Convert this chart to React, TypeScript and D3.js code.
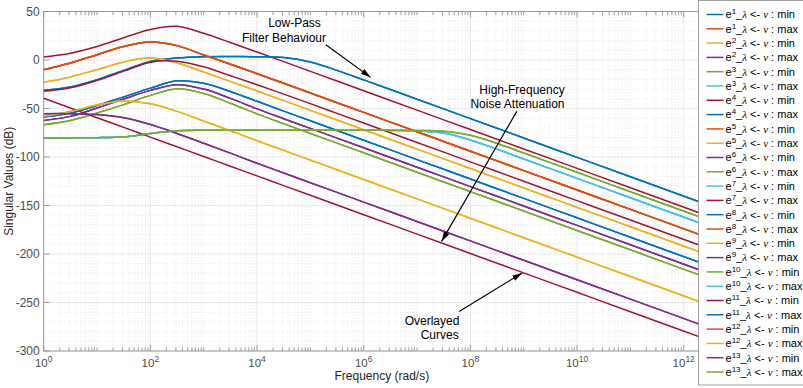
import React from "react";
import * as d3 from "d3";

// Frequency grid (log10 of rad/s) shared by every response curve
const FREQ_EXP = [0, 0.5, 1, 1.5, 2, 2.5, 3, 3.5, 4, 4.5, 5, 5.5, 6, 6.5, 7, 7.5, 8, 8.5, 9, 10, 11, 12.7];

// Singular value responses in dB, one value per grid frequency
const lowPassFlat = [-31.3, -27.8, -20.3, -10.7, -1.5, 2, 3.3, 3.5, 3.4, 2.5, -2, -10.7, -20.5, -30.4, -40.4, -50.4, -60.4, -70.4, -80.4, -100.4, -120.4, -154.4];
const highPeak = [3, 7, 14, 23, 31.5, 34.8, 27.5, 18, 8.2, -1.7, -11.7, -21.7, -31.7, -41.7, -51.7, -61.7, -71.7, -81.7, -91.7, -111.7, -131.7, -165.7];
const midPeak = [-10, -3, 5.5, 14, 18.5, 14.8, 5.2, -4.3, -14.1, -24, -34, -44, -54, -64, -74, -84, -94, -104, -114, -134, -154, -188];
const lowPeak = [-23, -17.5, -10, -2, 2, -3, -12.4, -22, -31.9, -41.9, -51.9, -61.9, -71.9, -81.9, -91.9, -101.9, -111.9, -121.9, -131.9, -151.9, -171.9, -205.9];
const zeroPeak = [-32.3, -28.6, -21, -11.5, -2.3, -1.3, -7, -16.2, -25.5, -35.2, -45, -55, -65, -75, -85, -95, -105, -115, -125, -145, -165, -199];
const humpA = [-58.8, -54.6, -47, -38, -29, -21.5, -24, -32.5, -42.6, -52.7, -62.7, -72.7, -82.7, -92.7, -102.7, -112.7, -122.7, -132.7, -142.7, -162.7, -182.7, -216.7];
const humpB = [-62.3, -58.1, -49.5, -40.2, -31.3, -25.5, -30, -39.6, -50.4, -60.5, -70.5, -80.5, -90.5, -100.5, -110.5, -120.5, -130.5, -140.5, -150.5, -170.5, -190.5, -224.5];
const humpC = [-66.7, -62.3, -54.6, -46, -36.5, -29.6, -34.5, -44.6, -55.5, -65.7, -75.7, -85.7, -95.7, -105.7, -115.7, -125.7, -135.7, -145.7, -155.7, -175.7, -195.7, -229.7];
const earlyPeak = [-58, -53, -46.5, -42.2, -45.2, -53, -63, -73, -83.2, -93.2, -103.2, -113.2, -123.2, -133.2, -143.2, -153.2, -163.2, -173.2, -183.2, -203.2, -223.2, -257.2];
const earlyRoll = [-55.4, -55.3, -56.3, -59.5, -66.5, -75.8, -85.8, -96, -106.5, -116.5, -126.5, -136.5, -146.5, -156.5, -166.5, -176.5, -186.5, -196.5, -206.5, -226.5, -246.5, -280.5];
const pureRoll = [-39.5, -49.5, -59.5, -69.5, -79.5, -89.5, -99.5, -109.5, -119.5, -129.5, -139.5, -149.5, -159.5, -169.5, -179.5, -189.5, -199.5, -209.5, -219.5, -239.5, -259.5, -293.5];
const widePlateau = [-80.4, -80.3, -80.1, -79.2, -75.8, -73, -72.5, -72.4, -72.4, -72.4, -72.4, -72.4, -72.4, -72.5, -72.7, -73.4, -77.5, -86, -95.9, -115.8, -135.8, -169.8];
const plateau = [-80.4, -80.3, -80.1, -79.2, -75.8, -73, -72.5, -72.4, -72.4, -72.4, -72.4, -72.4, -72.5, -72.6, -73, -75.3, -82.5, -92, -102, -122, -142, -176];

const Y_TICKS = [50, 0, -50, -100, -150, -200, -250, -300];
const X_LABEL_EXP = [0, 2, 4, 6, 8, 10, 12];

const C = {
  blue: "#0072BD",
  orange: "#D95319",
  yellow: "#EDB120",
  purple: "#7E2F8E",
  green: "#77AC30",
  cyan: "#4DBEEE",
  red: "#A2142F",
};

const SERIES = [
  { n: 1, kind: "min", color: C.blue, values: lowPassFlat },
  { n: 1, kind: "max", color: C.orange, values: midPeak },
  { n: 2, kind: "min", color: C.yellow, values: lowPeak },
  { n: 2, kind: "max", color: C.purple, values: humpB },
  { n: 3, kind: "min", color: C.green, values: humpC },
  { n: 3, kind: "max", color: C.cyan, values: plateau },
  { n: 4, kind: "min", color: C.red, values: highPeak },
  { n: 4, kind: "max", color: C.blue, values: lowPassFlat },
  { n: 5, kind: "min", color: C.orange, values: midPeak },
  { n: 5, kind: "max", color: C.yellow, values: lowPeak },
  { n: 6, kind: "min", color: C.purple, values: humpB },
  { n: 6, kind: "max", color: C.green, values: humpC },
  { n: 7, kind: "min", color: C.cyan, values: plateau },
  { n: 7, kind: "max", color: C.red, values: zeroPeak },
  { n: 8, kind: "min", color: C.blue, values: humpA },
  { n: 8, kind: "max", color: C.orange, values: midPeak },
  { n: 9, kind: "min", color: C.yellow, values: earlyPeak },
  { n: 9, kind: "max", color: C.purple, values: earlyRoll },
  { n: 10, kind: "min", color: C.green, values: widePlateau },
  { n: 10, kind: "max", color: C.cyan, values: plateau },
  { n: 11, kind: "min", color: C.red, values: pureRoll },
  { n: 11, kind: "max", color: C.blue, values: humpA },
  { n: 12, kind: "min", color: C.orange, values: midPeak },
  { n: 12, kind: "max", color: C.yellow, values: earlyPeak },
  { n: 13, kind: "min", color: C.purple, values: earlyRoll },
  { n: 13, kind: "max", color: C.green, values: widePlateau },
];

// Callouts: text lines plus an arrow from tail to head, in (log10 freq, dB)
const NOTES = [
  { lines: [{ t: "Low-Pass", x: 294.5, y: 27 }, { t: "Filter Behaviour", x: 284, y: 41.5 }], tail: [5.29, 15.8], head: [6.13, -17.9] },
  { lines: [{ t: "High-Frequency", x: 522, y: 94 }, { t: "Noise Attenuation", x: 517.5, y: 108.3 }], tail: [8.87, -53], head: [7.46, -187] },
  { lines: [{ t: "Overlayed", x: 432, y: 325 }, { t: "Curves", x: 439.7, y: 339.3 }], tail: [7.79, -259.2], head: [8.97, -219.6] },
];

const W = 803;
const H = 388;
const M = { left: 43.7, top: 11.5, right: 720, bottom: 351 };
const FONT = "'Liberation Sans', Arial, Helvetica, sans-serif";

export default function App() {
  const x = d3.scaleLog().domain([1, Math.pow(10, 12.68)]).range([M.left, M.right]);
  const y = d3.scaleLinear().domain([-300, 50]).range([M.bottom, M.top]);

  const line = d3
    .line<number>()
    .x((_, i) => x(Math.pow(10, FREQ_EXP[i])))
    .y((v) => y(v))
    .curve(d3.curveCatmullRom.alpha(0.5));

  const decades = d3.range(0, 13);
  const minor: number[] = [];
  decades.forEach((d) => {
    for (let m = 2; m <= 9; m++) {
      const f = m * Math.pow(10, d);
      if (f < x.domain()[1]) minor.push(f);
    }
  });
  const oddDecades = decades.filter((d) => d % 2 === 1).map((d) => Math.pow(10, d));
  const minorY = d3.range(-290, 50, 10).filter((v) => v % 50 !== 0);

  const legendTop = 14.5;
  const legendStep = 14.3;

  return (
    <svg width={W} height={H} style={{ position: "absolute", left: 0, top: 0, background: "#fff" }} fontFamily={FONT}>
      <defs>
        <clipPath id="plot">
          <rect x={M.left} y={M.top} width={M.right - M.left} height={M.bottom - M.top} />
        </clipPath>
        <marker id="head" markerUnits="userSpaceOnUse" markerWidth={10} markerHeight={6} refX={10} refY={3} orient="auto">
          <path d="M0,0 L10,3 L0,6 Z" fill="#000" />
        </marker>
      </defs>

      {/* minor grid */}
      <g stroke="#d9d9d9" strokeWidth={0.6} strokeDasharray="1,2">
        {[...minor, ...oddDecades].map((f, i) => (
          <line key={"mx" + i} x1={x(f)} x2={x(f)} y1={M.top} y2={M.bottom} />
        ))}
        {minorY.map((v) => (
          <line key={"my" + v} x1={M.left} x2={M.right} y1={y(v)} y2={y(v)} />
        ))}
      </g>
      {/* major grid */}
      <g stroke="#e3e3e3" strokeWidth={0.8}>
        {X_LABEL_EXP.map((e) => (
          <line key={"gx" + e} x1={x(Math.pow(10, e))} x2={x(Math.pow(10, e))} y1={M.top} y2={M.bottom} />
        ))}
        {Y_TICKS.map((v) => (
          <line key={"gy" + v} x1={M.left} x2={M.right} y1={y(v)} y2={y(v)} />
        ))}
      </g>

      {/* curves */}
      <g clipPath="url(#plot)" fill="none" strokeWidth={1.5}>
        {SERIES.map((s, i) => (
          <path key={i} d={line(s.values) || ""} stroke={s.color} />
        ))}
      </g>

      {/* axes box and ticks */}
      <g stroke="#8a8a8a" strokeWidth={0.8} fill="none">
        <rect x={M.left} y={M.top} width={M.right - M.left} height={M.bottom - M.top} />
        {X_LABEL_EXP.map((e) => (
          <g key={"tx" + e}>
            <line x1={x(Math.pow(10, e))} x2={x(Math.pow(10, e))} y1={M.bottom} y2={M.bottom - 6} />
            <line x1={x(Math.pow(10, e))} x2={x(Math.pow(10, e))} y1={M.top} y2={M.top + 6} />
          </g>
        ))}
        {[...minor, ...oddDecades].map((f, i) => (
          <g key={"tm" + i}>
            <line x1={x(f)} x2={x(f)} y1={M.bottom} y2={M.bottom - 3.5} />
            <line x1={x(f)} x2={x(f)} y1={M.top} y2={M.top + 3.5} />
          </g>
        ))}
        {Y_TICKS.map((v) => (
          <line key={"ty" + v} x1={M.left} x2={M.left + 6} y1={y(v)} y2={y(v)} />
        ))}
      </g>

      {/* tick labels */}
      <g fill="#4d4d4d" fontSize={12}>
        {Y_TICKS.map((v) => (
          <text key={"ly" + v} x={M.left - 4} y={y(v)} dy="0.35em" textAnchor="end">
            {v}
          </text>
        ))}
        {X_LABEL_EXP.map((e) => (
          <text key={"lx" + e} x={x(Math.pow(10, e))} y={M.bottom + 16} textAnchor="middle" fontSize={11.5}>
            10
            <tspan fontSize={8.5} dy={-5.5}>
              {e}
            </tspan>
          </text>
        ))}
      </g>

      {/* axis titles */}
      <text x={(M.left + M.right) / 2} y={380} textAnchor="middle" fontSize={12} fill="#262626">
        Frequency (rad/s)
      </text>
      <text transform={`translate(13,${(M.top + M.bottom) / 2}) rotate(-90)`} textAnchor="middle" fontSize={12} fill="#262626">
        Singular Values (dB)
      </text>

      {/* callouts */}
      {NOTES.map((n, i) => (
        <g key={"n" + i}>
          <line
            x1={x(Math.pow(10, n.tail[0]))}
            y1={y(n.tail[1])}
            x2={x(Math.pow(10, n.head[0]))}
            y2={y(n.head[1])}
            stroke="#000"
            strokeWidth={1.2}
            markerEnd="url(#head)"
          />
          {n.lines.map((l) => (
            <text key={l.t} x={l.x} y={l.y} textAnchor="middle" fontSize={12} fill="#000">
              {l.t}
            </text>
          ))}
        </g>
      ))}

      {/* legend */}
      <g>
        <rect x={698.5} y={0.5} width={120} height={384.5} fill="#fff" stroke="#8c8c8c" strokeWidth={0.8} />
        {SERIES.map((s, i) => {
          const ly = legendTop + i * legendStep;
          return (
            <g key={"lg" + i}>
              <line x1={706.5} x2={723.5} y1={ly} y2={ly} stroke={s.color} strokeWidth={1.5} />
              <text x={725.5} y={ly} dy="0.35em" fontSize={11} fill="#000">
                e
                <tspan fontSize={8} dy={-4}>
                  {s.n}
                </tspan>
                <tspan dy={4}>_</tspan>
                <tspan fontFamily="'Liberation Serif', 'DejaVu Serif', serif" fontStyle="italic">
                  λ
                </tspan>
                {" <- "}
                <tspan fontFamily="'Liberation Serif', 'DejaVu Serif', serif" fontStyle="italic">
                  ν
                </tspan>
                {" : " + s.kind}
              </text>
            </g>
          );
        })}
      </g>
    </svg>
  );
}
